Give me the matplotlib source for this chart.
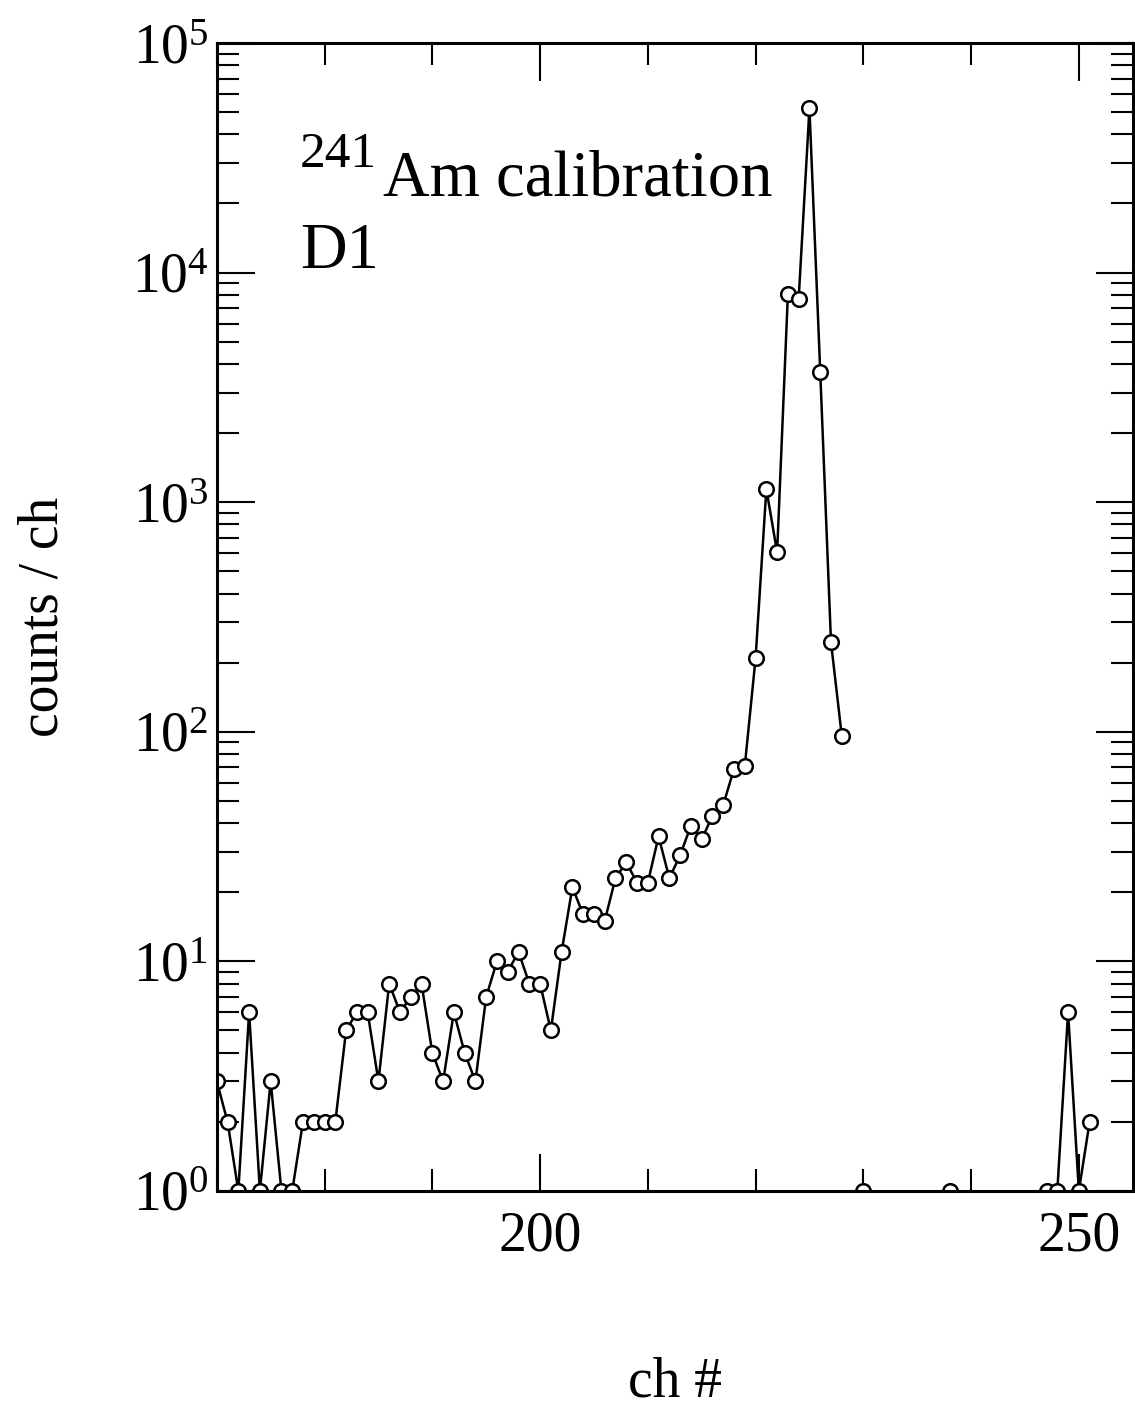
import numpy as np
import matplotlib
matplotlib.use("Agg")
import matplotlib.pyplot as plt
from matplotlib.ticker import MultipleLocator, LogLocator, NullFormatter

plt.rcParams['font.family'] = ['Liberation Serif', 'DejaVu Serif']
plt.rcParams['mathtext.fontset'] = 'custom'
plt.rcParams['mathtext.rm'] = 'Liberation Serif'
plt.rcParams['mathtext.it'] = 'Liberation Serif:italic'

channels = list(range(170, 256))
counts = [3, 2, 1, 6, 1, 3, 1, 1, 2, 2,
          2, 2, 5, 6, 6, 3, 8, 6, 7, 8,
          4, 3, 6, 4, 3, 7, 10, 9, 11, 8,
          8, 5, 11, 21, 16, 16, 15, 23, 27, 22,
          22, 35, 23, 29, 39, 34, 43, 48, 69, 71,
          209, 1140, 605, 8100, 7700, 52000, 3700, 245, 96, 0,
          1, 0, 0, 0, 0, 0, 0, 0, 1, 0,
          0, 0, 0, 0, 0, 0, 0, 1, 1, 6,
          1, 2, 0, 0, 0, 0]

x = np.array(channels, dtype=float)
y = np.array(counts, dtype=float)
y[y <= 0] = np.nan

fig = plt.figure(figsize=(11.35, 14.11), dpi=100)
ax = fig.add_axes([0.191, 0.156, 0.807, 0.8135])

ax.plot(x, y, '-', color='black', lw=1.8, marker='o', ms=10.5,
        mfc='white', mec='black', mew=1.8)

ax.set_yscale('log')
ax.set_xlim(170, 255)
ax.set_ylim(1, 1e5)

ax.xaxis.set_major_locator(MultipleLocator(50))
ax.xaxis.set_minor_locator(MultipleLocator(10))
ax.yaxis.set_major_locator(LogLocator(base=10, numticks=10))
ax.yaxis.set_minor_locator(LogLocator(base=10, subs=np.arange(2, 10), numticks=10))
ax.yaxis.set_minor_formatter(NullFormatter())

ax.tick_params(which='both', direction='in', top=True, right=True, width=1.5)
ax.tick_params(which='major', length=27, labelsize=40)
ax.tick_params(axis='x', which='major', pad=14)
ax.tick_params(axis='y', which='major', pad=6)
ax.tick_params(which='minor', length=16)
for sp in ax.spines.values():
    sp.set_linewidth(2.2)

ax.set_xlabel('ch #', fontsize=40, labelpad=68)
ax.set_ylabel('counts / ch', fontsize=40, labelpad=45)

ax.text(0.0906, 0.892, '241', transform=ax.transAxes,
        fontsize=37, ha='left', va='baseline')
ax.text(0.181, 0.867, 'Am calibration', transform=ax.transAxes,
        fontsize=46.5, ha='left', va='baseline')
ax.text(0.0906, 0.804, 'D1', transform=ax.transAxes,
        fontsize=46.5, ha='left', va='baseline')

fig.savefig('out.png', dpi=100)
